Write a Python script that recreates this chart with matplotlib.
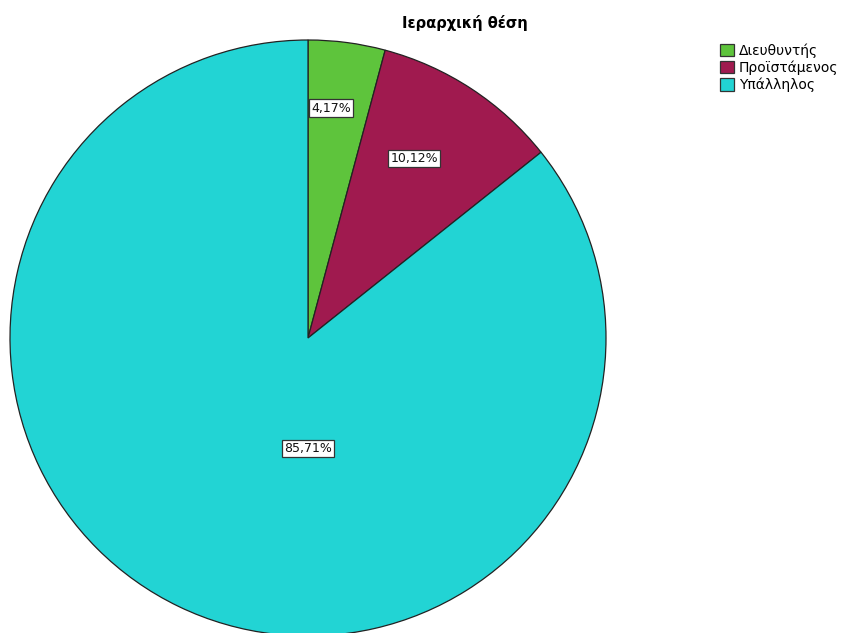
import numpy as np
import matplotlib.pyplot as plt
from matplotlib.patches import Patch

categories = ['Διευθυντής', 'Προϊστάμενος', 'Υπάλληλος']
percentages = [4.17, 10.12, 85.71]
pct_labels = ['4,17%', '10,12%', '85,71%']
colors = ['#5ec43c', '#a01a4f', '#22d4d4']

fig = plt.figure(figsize=(8.43, 6.33), dpi=100)
ax = fig.add_axes([0, 0, 1, 1])

center = (308, 633 - 338)
radius = 298
wedges, _ = ax.pie(percentages, colors=colors, startangle=90, counterclock=False,
                   center=center, radius=radius, frame=True,
                   wedgeprops=dict(edgecolor='#222222', linewidth=0.9))
ax.set_xlim(0, 843)
ax.set_ylim(0, 633)
ax.set_aspect('equal')
ax.axis('off')

# label placement (fraction of radius, angle shift) to mimic SPSS layout
label_dist = [0.775, 0.70, 0.37]
label_shift = [1.8, 2.6, 25.7]
for w, lab, d, s in zip(wedges, pct_labels, label_dist, label_shift):
    ang = np.deg2rad((w.theta1 + w.theta2) / 2 + s)
    x = center[0] + d * radius * np.cos(ang)
    y = center[1] + d * radius * np.sin(ang)
    ax.text(x, y, lab, ha='center', va='center', fontsize=9, color='#111111',
            bbox=dict(boxstyle='square,pad=0.18', facecolor='white', edgecolor='#333333', linewidth=0.9))

fig.text(0.552, 0.963, 'Ιεραρχική θέση', ha='center', va='center', fontsize=10.5, fontweight='bold')

handles = [Patch(facecolor=c, edgecolor='#333333', linewidth=0.9) for c in colors]
fig.legend(handles, categories, loc='upper left', bbox_to_anchor=(0.854, 0.932), frameon=False,
           fontsize=10, handlelength=1.0, handleheight=1.0, handletextpad=0.35,
           labelspacing=0.2, borderaxespad=0, borderpad=0)

fig.savefig('out.png', dpi=100)
